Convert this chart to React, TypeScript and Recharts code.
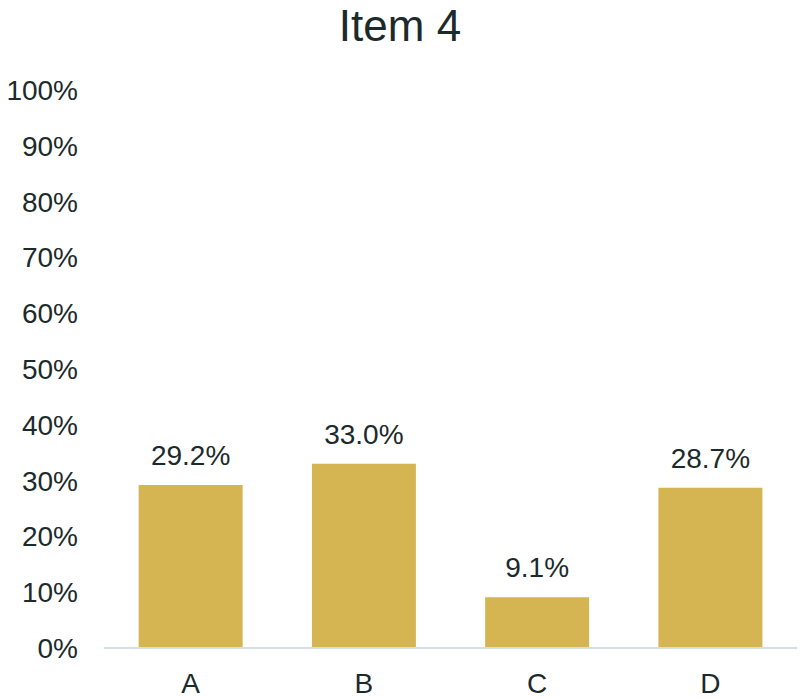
import React from 'react';
import { BarChart, Bar, XAxis, YAxis, LabelList } from 'recharts';

const categories = ['A', 'B', 'C', 'D'];
const values = [29.2, 33.0, 9.1, 28.7];
const yTicks = [0, 10, 20, 30, 40, 50, 60, 70, 80, 90, 100];
const title = 'Item 4';

const data = categories.map((c, i) => ({ name: c, value: values[i] }));

const TEXT = '#1b2a2a';
const FONT = '"Liberation Sans", Arial, sans-serif';

export default function App() {
  return (
    <div style={{ position: 'absolute', left: 0, top: 0, width: 800, height: 698, background: '#fff', fontFamily: FONT }}>
      <div style={{ position: 'absolute', left: 0, top: 0, width: 800, height: 52, lineHeight: '52px', textAlign: 'center', fontSize: 44, color: TEXT }}>
        {title}
      </div>
      <BarChart width={800} height={698} data={data} margin={{ top: 90, right: 3, bottom: 0, left: 0 }} barCategoryGap="20%">
        <XAxis
          dataKey="name"
          height={50}
          tickLine={false}
          tickSize={0}
          tickMargin={25}
          axisLine={{ stroke: '#d5dfe2', strokeWidth: 2 }}
          tick={{ fill: TEXT, fontSize: 28, fontFamily: FONT }}
        />
        <YAxis
          width={104}
          domain={[0, 100]}
          ticks={yTicks}
          interval={0}
          axisLine={false}
          tickLine={false}
          tickSize={0}
          tickMargin={26}
          tickFormatter={(v: number) => `${v}%`}
          tick={{ fill: TEXT, fontSize: 28, fontFamily: FONT }}
        />
        <Bar dataKey="value" fill="#d5b552" isAnimationActive={false}>
          <LabelList
            dataKey="value"
            position="top"
            offset={20}
            formatter={(v: number) => `${v.toFixed(1)}%`}
            style={{ fill: TEXT, fontSize: 28, fontFamily: FONT }}
          />
        </Bar>
      </BarChart>
    </div>
  );
}
